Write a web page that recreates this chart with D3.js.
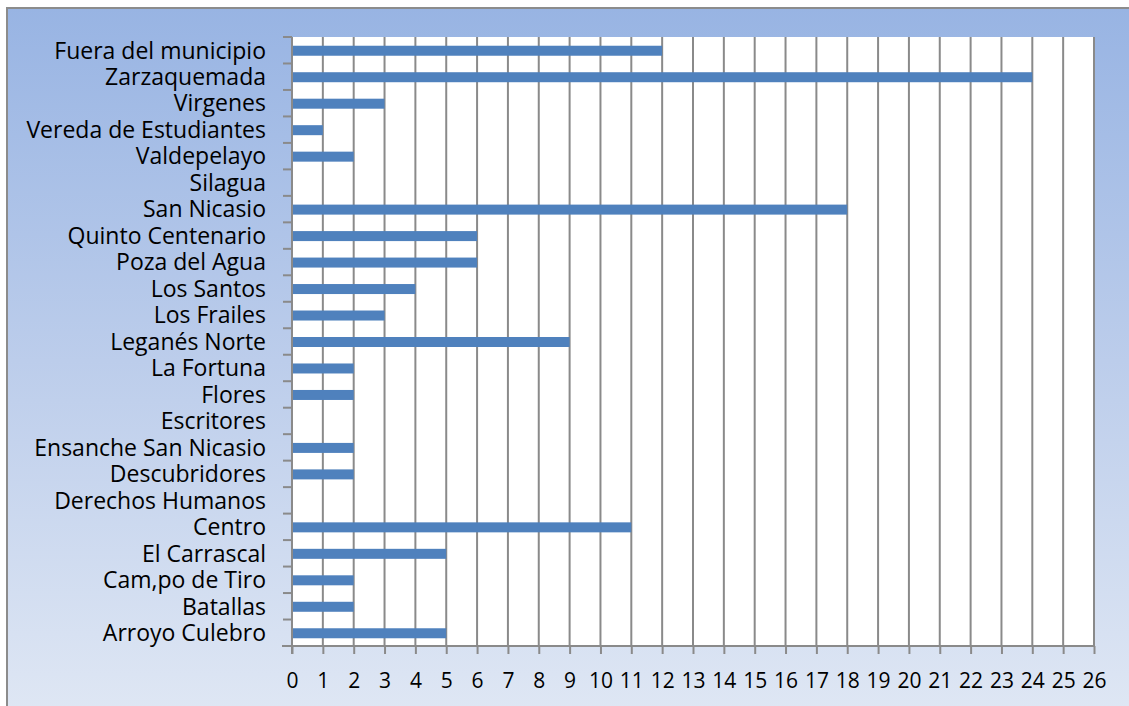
<!DOCTYPE html>
<html>
<head>
<meta charset="utf-8">
<script src="https://cdn.jsdelivr.net/npm/d3@7"></script>
<style>
  body { margin: 0; background: #fff; }
  svg text { font-family: "Open Sans", Lato, sans-serif; fill: #000; }
</style>
</head>
<body>
<div id="chart"></div>
<script>
// categories listed bottom to top, as in the reference
var categories = ["Arroyo Culebro", "Batallas", "Cam,po de Tiro", "El Carrascal", "Centro",
  "Derechos Humanos", "Descubridores", "Ensanche San Nicasio", "Escritores", "Flores",
  "La Fortuna", "Leganés Norte", "Los Frailes", "Los Santos", "Poza del Agua",
  "Quinto Centenario", "San Nicasio", "Silagua", "Valdepelayo", "Vereda de Estudiantes",
  "Virgenes", "Zarzaquemada", "Fuera del municipio"];
var values = [5, 2, 2, 5, 11, 0, 2, 2, 0, 2, 2, 9, 3, 4, 6, 6, 18, 0, 2, 1, 3, 24, 12];
var xTicks = d3.range(0, 27);

var W = 1129, H = 706;
var margin = {top: 37, right: 35, bottom: 60, left: 292},
  width = 1094 - margin.left,
  height = 646 - margin.top;

var svg = d3.select("#chart").append("svg")
  .attr("width", W)
  .attr("height", H);

var defs = svg.append("defs");
var grad = defs.append("linearGradient")
  .attr("id", "bg").attr("x1", 0).attr("y1", 0).attr("x2", 0).attr("y2", 1);
grad.append("stop").attr("offset", "0%").attr("stop-color", "#98b4e3");
grad.append("stop").attr("offset", "50%").attr("stop-color", "#bccdeb");
grad.append("stop").attr("offset", "100%").attr("stop-color", "#dfe7f4");

// outer chart area
svg.append("rect")
  .attr("x", 7).attr("y", 8)
  .attr("width", W).attr("height", H)
  .attr("fill", "url(#bg)")
  .attr("stroke", "#8c8c8c")
  .attr("stroke-width", 2);

var g = svg.append("g")
  .attr("transform", "translate(" + margin.left + "," + margin.top + ")");

var x = d3.scaleLinear().domain([0, 26]).range([0, width]);
var y = d3.scaleBand().domain(categories.slice().reverse()).range([0, height]);

g.append("rect")
  .attr("width", width).attr("height", height)
  .attr("fill", "#fff");

// vertical gridlines
g.append("g")
  .selectAll("line")
  .data(xTicks.slice(1))
  .enter().append("line")
  .attr("x1", function(d) { return x(d); })
  .attr("x2", function(d) { return x(d); })
  .attr("y1", 0).attr("y2", height)
  .attr("stroke", "#8a8a8a")
  .attr("stroke-width", 2);

// bars
var barH = 10;
g.selectAll(".bar")
  .data(categories)
  .enter().append("rect")
  .attr("class", "bar")
  .attr("x", 0)
  .attr("y", function(d) { return y(d) + y.bandwidth() / 2 - barH / 2 + 0.5; })
  .attr("width", function(d, i) { return x(values[i]); })
  .attr("height", barH)
  .attr("fill", "#4f81bd");

// x axis
var xAxis = d3.axisBottom(x).tickValues(xTicks).tickSize(8).tickPadding(22);
var xg = g.append("g")
  .attr("transform", "translate(0," + height + ")")
  .call(xAxis);
xg.select(".domain").attr("stroke", "#8a8a8a").attr("stroke-width", 2)
  .attr("d", "M-10,0H" + width);
xg.selectAll(".tick line").attr("stroke", "#8a8a8a").attr("stroke-width", 2);
xg.selectAll("text").style("font-size", "21px").attr("dy", "0.55em");

// y axis with ticks between categories
var yg = g.append("g");
yg.append("line")
  .attr("x1", 0).attr("x2", 0)
  .attr("y1", 0).attr("y2", height + 8)
  .attr("stroke", "#8a8a8a").attr("stroke-width", 2);
yg.selectAll(".ytick")
  .data(categories)
  .enter().append("line")
  .attr("class", "ytick")
  .attr("x1", -9).attr("x2", 0)
  .attr("y1", function(d) { return y(d); })
  .attr("y2", function(d) { return y(d); })
  .attr("stroke", "#8a8a8a").attr("stroke-width", 2);
yg.selectAll(".ylabel")
  .data(categories)
  .enter().append("text")
  .attr("class", "ylabel")
  .attr("x", -26)
  .attr("y", function(d) { return y(d) + y.bandwidth() / 2; })
  .attr("dy", "0.36em")
  .attr("text-anchor", "end")
  .style("font-size", "23px")
  .text(function(d) { return d; });
</script>
</body>
</html>
